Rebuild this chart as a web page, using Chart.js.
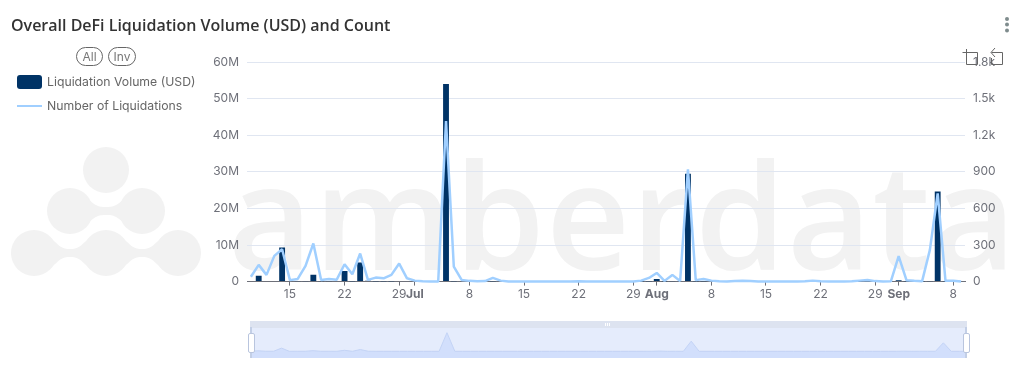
<!DOCTYPE html>
<html><head><meta charset="utf-8">
<script src="https://cdn.jsdelivr.net/npm/chart.js@4"></script>
<style>
html,body{margin:0;padding:0;background:#fff;width:1025px;height:390px;overflow:hidden;font-family:Inter,"Open Sans",sans-serif}
.abs{position:absolute}
#wm{left:228px;top:141px;font:600 146px/146px "Open Sans",sans-serif;color:#f2f2f2;white-space:nowrap;letter-spacing:1px}
#title{left:11px;top:15px;font:600 16px/20px "Open Sans",sans-serif;color:#333}
.pill{border:1px solid #666;border-radius:10px;height:17px;font:12px/17px Inter,sans-serif;color:#777;text-align:center;box-sizing:content-box}
.leg{left:47px;font:12.25px/16px Inter,sans-serif;color:#666;white-space:nowrap}
</style></head><body>
<svg class="abs" style="left:0;top:130px" width="220" height="160"><g fill="#f2f2f2">
<circle cx="106" cy="40" r="23"/>
<circle cx="70" cy="81" r="23"/><circle cx="142" cy="81" r="23"/>
<circle cx="34" cy="123" r="23"/><circle cx="106" cy="123" r="23"/><circle cx="178" cy="123" r="23"/>
<path d="M84 66C96 76 98 77 106 77C114 77 116 76 128 66L128 96C116 86 114 85 106 85C98 85 96 86 84 96Z"/>
<path d="M50 107C60 117 62 119 70 119C78 119 80 117 90 107L90 139C80 129 78 127 70 127C62 127 60 129 50 139Z"/>
<path d="M122 107C132 117 134 119 142 119C150 119 152 117 162 107L162 139C152 129 150 127 142 127C134 127 132 129 122 139Z"/>
</g></svg>
<div id="wm" class="abs">amberdata</div>
<div class="abs" style="left:0;top:0;width:1025px;height:315px"><canvas id="main" width="1025" height="315"></canvas></div>
<div id="title" class="abs">Overall DeFi Liquidation Volume (USD) and Count</div>
<div class="abs pill" style="left:76px;top:47px;width:25px">All</div>
<div class="abs pill" style="left:108px;top:47px;width:26px">Inv</div>
<div class="abs" style="left:17px;top:75px;width:25px;height:14px;background:#003366;border-radius:3px"></div>
<div class="abs leg" id="leg0" style="top:74px"></div>
<div class="abs" style="left:17px;top:105px;width:25px;height:2px;background:#a0cfff"></div>
<div class="abs leg" id="leg1" style="top:98px"></div>
<svg class="abs" style="left:960px;top:46px" width="50" height="22" fill="none" stroke="#666" stroke-width="1">
<path d="M6.5 3V18.5H17.5V6.5H2.500"/><path d="M31.5 6.5H42.5V18.5H31.5V12M35 2L31 6.500L35 11"/></svg>
<svg class="abs" style="left:1003px;top:15px" width="8" height="20" fill="#7f8c8d"><circle cx="4" cy="4" r="2"/><circle cx="4" cy="9.500" r="2"/><circle cx="4" cy="15.500" r="2"/></svg>
<div class="abs" style="left:250px;top:321px;width:717px;height:7px;background:#dde3f0"></div>
<div class="abs" style="left:605px;top:323px;width:6px;height:3px;background:repeating-linear-gradient(90deg,#fff 0 1px,transparent 1px 2px)"></div>
<div class="abs" style="left:250px;top:328px;width:717px;height:30px;background:#e5ecfc"></div>
<div class="abs" style="left:250px;top:328px;width:717px;height:30px"><canvas id="mini" width="717" height="30"></canvas></div>
<div class="abs" style="left:250px;top:327px;width:2px;height:31px;background:#c3cfe6"></div>
<div class="abs" style="left:965px;top:327px;width:2px;height:31px;background:#c3cfe6"></div>
<div class="abs" style="left:248px;top:333px;width:5px;height:18px;background:#fff;border:1px solid #b9c5de;border-radius:2px"></div>
<div class="abs" style="left:963px;top:333px;width:5px;height:18px;background:#fff;border:1px solid #b9c5de;border-radius:2px"></div>
<script>
const seriesVolumeName='Liquidation Volume (USD)';
const seriesCountName='Number of Liquidations';
const days=['Jun 10','Jun 11','Jun 12','Jun 13','Jun 14','Jun 15','Jun 16','Jun 17','Jun 18','Jun 19','Jun 20','Jun 21','Jun 22','Jun 23','Jun 24','Jun 25','Jun 26','Jun 27','Jun 28','Jun 29','Jun 30',
'Jul 1','Jul 2','Jul 3','Jul 4','Jul 5','Jul 6','Jul 7','Jul 8','Jul 9','Jul 10','Jul 11','Jul 12','Jul 13','Jul 14','Jul 15','Jul 16','Jul 17','Jul 18','Jul 19','Jul 20','Jul 21','Jul 22','Jul 23','Jul 24','Jul 25','Jul 26','Jul 27','Jul 28','Jul 29','Jul 30','Jul 31',
'Aug 1','Aug 2','Aug 3','Aug 4','Aug 5','Aug 6','Aug 7','Aug 8','Aug 9','Aug 10','Aug 11','Aug 12','Aug 13','Aug 14','Aug 15','Aug 16','Aug 17','Aug 18','Aug 19','Aug 20','Aug 21','Aug 22','Aug 23','Aug 24','Aug 25','Aug 26','Aug 27','Aug 28','Aug 29','Aug 30','Aug 31',
'Sep 1','Sep 2','Sep 3','Sep 4','Sep 5','Sep 6','Sep 7','Sep 8','Sep 9'];
const tickLabels={'Jun 15':'15','Jun 22':'22','Jun 29':'29','Jul 1':'Jul','Jul 8':'8','Jul 15':'15','Jul 22':'22','Jul 29':'29','Aug 1':'Aug','Aug 8':'8','Aug 15':'15','Aug 22':'22','Aug 29':'29','Sep 1':'Sep','Sep 8':'8'};
const monthLabels=['Jul','Aug','Sep'];
const volume=[0,1.6e6,.15e6,.15e6,9.3e6,0,.1e6,.1e6,1.9e6,.1e6,.1e6,0,2.9e6,.05e6,5.2e6,.2e6,.02e6,.02e6,.02e6,0,0,
0,0,0,0,54e6,.02e6,0,0,0,0,.02e6,0,0,0,0,0,0,0,0,0,0,0,0,0,0,0,0,0,0,.02e6,.05e6,
.7e6,.02e6,.1e6,0,29.5e6,.02e6,.02e6,0,0,0,.02e6,.02e6,.02e6,0,0,0,0,0,0,0,.03e6,0,0,0,0,0,.02e6,.02e6,0,0,0,
.4e6,.03e6,.1e6,.05e6,.1e6,24.6e6,.02e6,.02e6,0];
const counts=[40,137,55,211,265,12,22,129,312,14,22,16,142,60,230,14,33,27,55,148,27,
8,2,0,0,1315,123,14,6,2,4,30,8,1,0,0,1,0,0,0,0,1,2,1,0,0,0,0,0,0,8,30,
71,6,55,5,920,12,22,8,2,1,5,6,5,1,0,0,0,0,1,2,8,2,0,0,1,2,8,14,4,0,2,
208,12,6,2,260,723,6,6,0];
const yLeftTicks=[0,1e7,2e7,3e7,4e7,5e7,6e7];
const yRightTicks={0:'0',300:'300',600:'600',900:'900',1200:'1.2k',1500:'1.5k',1800:'1.8k'};
document.getElementById('leg0').textContent=seriesVolumeName;
document.getElementById('leg1').textContent=seriesCountName;
const tickFont='Inter, sans-serif', txt='#6e7079';
new Chart(document.getElementById('main'),{
 data:{labels:days,datasets:[
  {type:'line',label:seriesCountName,data:counts,yAxisID:'yR',borderColor:'#a0cfff',borderWidth:2.5,borderJoinStyle:'bevel',pointRadius:0,tension:0,order:1,clip:false},
  {type:'bar',label:seriesVolumeName,data:volume,yAxisID:'yL',backgroundColor:'#003366',barPercentage:.75,categoryPercentage:1,order:2}
 ]},
 options:{responsive:false,animation:false,
  layout:{padding:{top:62,bottom:11}},
  plugins:{legend:{display:false},tooltip:{enabled:false}},
  scales:{
   x:{position:'bottom',offset:true,
    grid:{offset:false,drawOnChartArea:false,drawTicks:true,tickLength:4,tickColor:c=>tickLabels[days[c.index]]?txt:'transparent'},
    border:{color:txt},
    ticks:{autoSkip:false,maxRotation:0,minRotation:0,padding:2,color:txt,
     callback:(v,i)=>tickLabels[days[i]]||'',
     font:c=>({family:tickFont,size:12,weight:monthLabels.includes(tickLabels[days[c.index]])?'bold':'normal'})}},
   yL:{position:'left',min:0,max:6e7,
    afterBuildTicks:a=>{a.ticks=yLeftTicks.map(v=>({value:v}))},
    afterFit:a=>{a.width=247},
    grid:{color:'#e0e6f1',drawTicks:false},border:{display:false},
    ticks:{padding:8,color:txt,font:{family:tickFont,size:12},callback:v=>v===0?'0':(v/1e6)+'M'}},
   yR:{position:'right',min:0,max:1800,
    afterBuildTicks:a=>{a.ticks=Object.keys(yRightTicks).map(v=>({value:+v}))},
    afterFit:a=>{a.width=60},
    grid:{display:false,drawTicks:false},border:{display:false},
    ticks:{padding:8,color:txt,font:{family:tickFont,size:12},callback:v=>yRightTicks[v]}}
  }
 }
});
new Chart(document.getElementById('mini'),{
 type:'line',
 data:{labels:days,datasets:[{data:volume,borderColor:'#c3d3f5',borderWidth:1,backgroundColor:'#d2dffc',fill:'start',pointRadius:0,tension:0}]},
 options:{responsive:false,animation:false,layout:{padding:0},plugins:{legend:{display:false},tooltip:{enabled:false}},
  scales:{x:{display:false,offset:false},y:{display:false,min:-19.4e6,max:67.6e6}}}
});
</script>
</body></html>
